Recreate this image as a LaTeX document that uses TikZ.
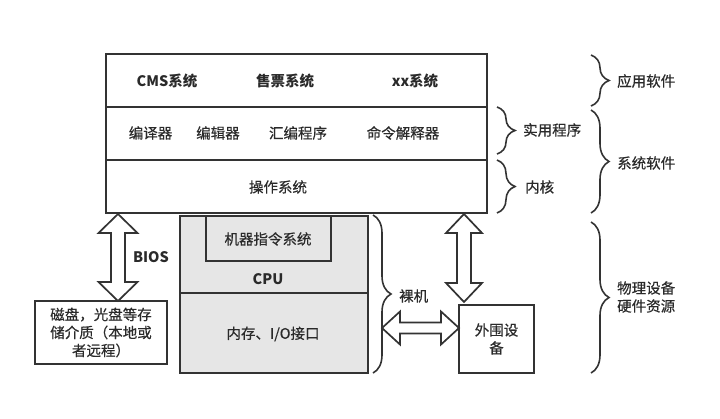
\documentclass[tikz,border=0pt]{standalone}
\usepackage{fontspec}
\setmainfont{Noto Sans CJK SC}[UprightFeatures={FakeBold=0.5}]
\usetikzlibrary{decorations.pathreplacing}
\definecolor{ln}{HTML}{333333}
\definecolor{tx}{HTML}{2A2A2A}
\definecolor{cpufill}{HTML}{E6E6E6}
\begin{document}
\begin{tikzpicture}[x=1pt,y=-1pt,
  every node/.style={text=tx, font=\fontsize{14.5}{18}\selectfont, inner sep=0pt},
  box/.style={draw=ln, line width=1.9pt, fill=white},
  graybox/.style={draw=ln, line width=1.9pt, fill=cpufill},
  bold/.style={font=\fontsize{14.5}{18}\selectfont\bfseries},
  bigarrow/.style={draw=ln, line width=1.7pt, fill=white, line join=miter},
  bracestyle/.style={draw=ln, line width=1.6pt, decorate, decoration={brace, amplitude=#1}},
  bracestyle/.default=18pt,
  lbl/.style={anchor=west}]
\useasboundingbox (0,0) rectangle (720,418);

% software layers
\node[box, minimum width=381, minimum height=53] (app) at (296.5,80.5) {};
\node[box, minimum width=381, minimum height=53] (util) at (296.5,133.5) {};
\node[box, minimum width=381, minimum height=53] (kern) at (296.5,186.5) {};

\node[bold] (cms) at (167,81) {CMS系统};
\node[bold] (ticket) at (285,81) {售票系统};
\node[bold] (xx) at (415,81) {xx系统};

\node (comp) at (150.5,133) {编译器};
\node (edit) at (218,133) {编辑器};
\node (asm) at (298,133) {汇编程序};
\node (cmd) at (403,133) {命令解释器};

\node (os) at (278,187) {操作系统};

% CPU block
\node[graybox, minimum width=188, minimum height=77] (cpu) at (274,254.5) {};
\node[graybox, minimum width=188, minimum height=80] (mem) at (274,333) {};
\node[graybox, minimum width=125, minimum height=45] (isa) at (268.5,238.5) {};
\node (isat) at (268,239) {机器指令系统};
\node[bold] (cput) at (268,279) {CPU};
\node (memt) at (273,334) {内存、I/O接口};

% storage
\node[box, minimum width=132, minimum height=63, align=center] (disk) at (101,332.5)
  {\fontsize{14.5}{19}\selectfont 磁盘，光盘等存\\储介质（本地或\\者远程）};

% peripherals
\node[box, minimum width=75, minimum height=68, align=center] (peri) at (496.5,339)
  {\fontsize{14.5}{18.5}\selectfont 外围设\\备};

% BIOS arrow
\coordinate (b1) at (118,214);
\coordinate (b2) at (118,301);
\draw[bigarrow] (b1) -- ++(19.5,19) -- ++(-12.5,0) -- ++(0,49) -- ++(12.5,0) -- (b2)
  -- ++(-19.5,-19) -- ++(12.5,0) -- ++(0,-49) -- ++(-12.5,0) -- cycle;
\node[bold] (bios) at (151,257) {BIOS};

% right vertical arrow
\coordinate (r1) at (464,214);
\coordinate (r2) at (464,302);
\draw[bigarrow] (r1) -- ++(18,19) -- ++(-11,0) -- ++(0,50) -- ++(11,0) -- (r2)
  -- ++(-18,-19) -- ++(11,0) -- ++(0,-50) -- ++(-11,0) -- cycle;

% horizontal arrow
\coordinate (h1) at (382,328);
\coordinate (h2) at (459,328);
\draw[bigarrow] (h1) -- ++(18,-16.5) -- ++(0,11) -- ++(41,0) -- ++(0,-11) -- (h2)
  -- ++(-18,16.5) -- ++(0,-11) -- ++(-41,0) -- ++(0,11) -- cycle;

% braces
\coordinate (a1) at (591,55);  \coordinate (a2) at (591,106);
\draw[bracestyle] (a1) -- (a2);
\node[lbl] (appl) at (617,81) {应用软件};

\coordinate (u1) at (497,107); \coordinate (u2) at (497,154);
\draw[bracestyle] (u1) -- (u2);
\node[lbl] (utill) at (523,130) {实用程序};

\coordinate (k1) at (497,160); \coordinate (k2) at (497,213);
\draw[bracestyle] (k1) -- (k2);
\node[lbl] (kernl) at (525,187) {内核};

\coordinate (s1) at (591,110); \coordinate (s2) at (591,213);
\draw[bracestyle] (s1) -- (s2);
\node[lbl] (sysl) at (617,163) {系统软件};

\coordinate (w1) at (591,222); \coordinate (w2) at (591,373);
\draw[bracestyle] (w1) -- (w2);
\node[lbl, align=left] (hwl) at (617,297) {物理设备\\硬件资源};

\coordinate (m1) at (373,215); \coordinate (m2) at (373,373);
\draw[bracestyle] (m1) -- (m2);
\node[lbl] (barel) at (399,296) {裸机};
\end{tikzpicture}
\end{document}
